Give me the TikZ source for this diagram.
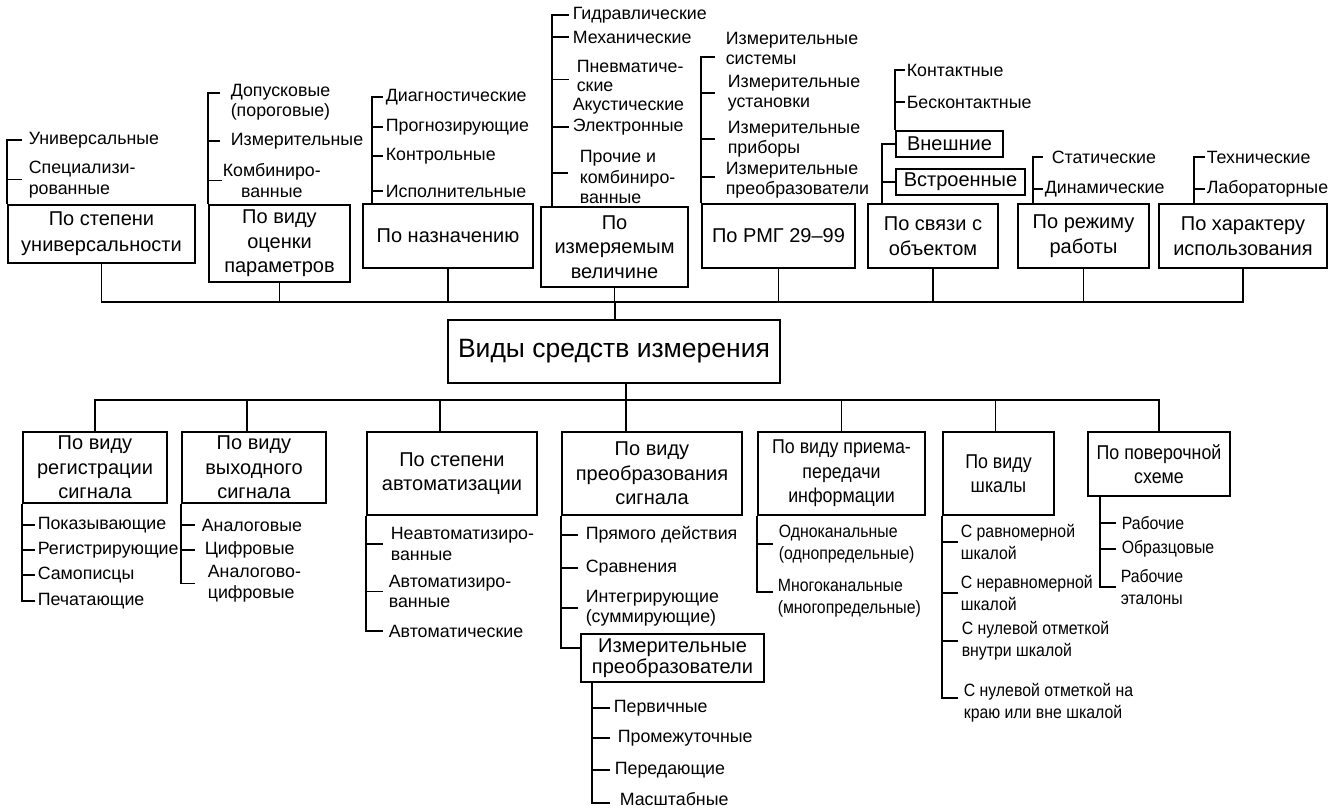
\documentclass[tikz,border=0pt]{standalone}
\usepackage{fontspec}
\setmainfont{Liberation Sans}
\newfontfamily\narrowfont[FakeStretch=0.89]{Liberation Sans}
\tikzset{bx/.append style={draw,align=center,inner sep=0pt,font=\fontsize{20}{24.5}\selectfont}}
\tikzset{bxn/.append style={bx,font=\narrowfont\fontsize{20}{24.5}\selectfont}}
\tikzset{lf/.append style={anchor=west,align=left,inner xsep=3pt,inner ysep=0pt,font=\fontsize{17.8}{20.5}\selectfont}}
\tikzset{lfn/.append style={lf,font=\narrowfont\fontsize{17.8}{22}\selectfont}}
\tikzset{mainbx/.append style={draw,align=center,inner sep=0pt,font=\fontsize{26.5}{30}\selectfont}}

\begin{document}
\begin{tikzpicture}[x=1pt,y=-1pt,line width=1.6pt]
                \useasboundingbox (0,0) rectangle (1343,810);
                % main box
                \node[mainbx,minimum width=332pt,minimum height=63pt] (cb) at (614,351.5) {Виды средств измерения};
                % top row
                \node[bx,minimum width=187pt,minimum height=58pt,font=\fontsize{20}{26}\selectfont] (t1) at (101.5,234) {По степени\\универсальности};
                \node[bx,minimum width=141pt,minimum height=77pt] (t2) at (279.5,243.5) {По виду\\оценки\\параметров};
                \node[bx,minimum width=170pt,minimum height=64pt] (t3) at (448,236) {По назначению};
                \node[bx,minimum width=147pt,minimum height=80pt] (t4) at (614.5,247) {По\\измеряемым\\величине};
                \node[bx,minimum width=153pt,minimum height=64pt] (t5) at (778.5,236) {По РМГ 29–99};
                \node[bx,minimum width=130pt,minimum height=64pt] (t6) at (933,236) {По связи с\\объектом};
                \node[bx,minimum width=131pt,minimum height=64pt] (t7) at (1083.5,236) {По режиму\\работы};
                \node[bx,minimum width=168pt,minimum height=64pt] (t8) at (1243,236) {По характеру\\использования};
                \node[bx,minimum width=107pt,minimum height=26pt] (w1) at (949.5,144) {Внешние};
                \node[bx,minimum width=129pt,minimum height=26pt] (w2) at (960.5,182) {Встроенные};
                % bottom row
                \node[bx,minimum width=144pt,minimum height=71pt] (d1) at (95,467.5) {По виду\\регистрации\\сигнала};
                \node[bx,minimum width=144pt,minimum height=71pt] (d2) at (254,467.5) {По виду\\выходного\\сигнала};
                \node[bx,minimum width=170pt,minimum height=83pt] (d3) at (452,473.5) {По степени\\автоматизации};
                \node[bx,minimum width=180pt,minimum height=83pt] (d4) at (652,473.5) {По виду\\преобразования\\сигнала};
                \node[bxn,minimum width=167pt,minimum height=83pt] (d5) at (841.5,473.5) {По виду приема-\\передачи\\информации};
                \node[bxn,minimum width=111pt,minimum height=83pt] (d6) at (998.5,473.5) {По виду\\шкалы};
                \node[bxn,minimum width=142pt,minimum height=64pt] (d7) at (1159,464) {По поверочной\\схеме};
                \node[bx,minimum width=183pt,minimum height=48pt,font=\fontsize{20}{21.5}\selectfont] (e1) at (672.5,658) {Измерительные\\преобразователи};
                % top labels
                \node[lf,inner xsep=6pt] (t1a) at (22,140) {Универсальные};
                \node[lf,inner xsep=6pt] (t1b) at (22,179.5) {Специализи-\\рованные};
                \node[lf,inner xsep=10pt] (t2a) at (220,102) {Допусковые\\(пороговые)};
                \node[lf,inner xsep=10pt] (t2b) at (220,141) {Измерительные};
                \node[lf,inner xsep=0pt,align=center] (t2c) at (222,180.5) {Комбиниро-\\ванные};
                \node[lf,inner xsep=2pt] (t3a) at (383,97) {Диагностические};
                \node[lf,inner xsep=2pt] (t3b) at (383,127) {Прогнозирующие};
                \node[lf,inner xsep=2pt] (t3c) at (383,156) {Контрольные};
                \node[lf,inner xsep=2pt] (t3d) at (383,191) {Исполнительные};
                \node[lf] (t4a) at (569,15) {Гидравлические};
                \node[lf] (t4b) at (569,37) {Механические};
                \node[lf,inner xsep=7pt,font=\fontsize{17.8}{19.5}\selectfont] (t4c) at (569,76) {Пневматиче-\\ские};
                \node[lf] (t4d) at (569,106) {Акустические};
                \node[lf] (t4e) at (569,127) {Электронные};
                \node[lf,inner xsep=11pt] (t4f) at (568,177) {Прочие и\\комбиниро-\\ванные};
                \node[lf,inner xsep=10pt] (t5a) at (715,48.5) {Измерительные\\системы};
                \node[lf,inner xsep=12pt] (t5b) at (715,93) {Измерительные\\установки};
                \node[lf,inner xsep=12pt] (t5c) at (715,139) {Измерительные\\приборы};
                \node[lf,inner xsep=10pt] (t5d) at (715,180) {Измерительные\\преобразователи};
                \node[lf,inner xsep=1pt] (t6a) at (905,70) {Контактные};
                \node[lf,inner xsep=1pt] (t6b) at (905,102) {Бесконтактные};
                \node[lf,inner xsep=8pt] (t7a) at (1043,157) {Статические};
                \node[lf,inner xsep=1pt] (t7b) at (1043,189) {Динамические};
                \node[lf,inner xsep=1pt] (t8a) at (1205,157) {Технические};
                \node[lf,inner xsep=1pt] (t8b) at (1205,189) {Лабораторные};
                % bottom labels
                \node[lf,inner xsep=2pt] (d1a) at (35,525) {Показывающие};
                \node[lf,inner xsep=2pt] (d1b) at (35,550) {Регистрирующие};
                \node[lf,inner xsep=2pt] (d1c) at (35,575) {Самописцы};
                \node[lf,inner xsep=2pt] (d1d) at (35,601) {Печатающие};
                \node[lf,inner xsep=6pt] (d2a) at (195,525) {Аналоговые};
                \node[lf,inner xsep=9pt] (d2b) at (195,550) {Цифровые};
                \node[lf,inner xsep=12pt] (d2c) at (195,583.5) {Аналогово-\\цифровые};
                \node[lf,inner xsep=7pt] (d3a) at (383,544) {Неавтоматизиро-\\ванные};
                \node[lf,inner xsep=5pt] (d3b) at (383,591.5) {Автоматизиро-\\ванные};
                \node[lf,inner xsep=5pt] (d3c) at (383,631) {Автоматические};
                \node[lf,inner xsep=7pt] (d4a) at (578,535) {Прямого действия};
                \node[lf,inner xsep=7pt] (d4b) at (578,568) {Сравнения};
                \node[lf,inner xsep=7pt] (d4c) at (578,608) {Интегрирующие\\(суммирующие)};
                \node[lf] (e1a) at (610,708) {Первичные};
                \node[lf,inner xsep=7pt] (e1b) at (610,738) {Промежуточные};
                \node[lf,inner xsep=4pt] (e1c) at (610,770) {Передающие};
                \node[lf,inner xsep=9pt] (e1d) at (610,799) {Масштабные};
                \node[lfn,inner xsep=5pt] (d5a) at (773,544) {Одноканальные\\(однопредельные)};
                \node[lfn,inner xsep=4pt] (d5b) at (773,598) {Многоканальные\\(многопредельные)};
                \node[lfn,inner xsep=2pt] (d6a) at (958,542) {С равномерной\\шкалой};
                \node[lfn,inner xsep=2pt] (d6b) at (958,593) {С неравномерной\\шкалой};
                \node[lfn,inner xsep=3pt] (d6c) at (958,641) {С нулевой отметкой\\внутри шкалой};
                \node[lfn,inner xsep=5pt] (d6d) at (958,703) {С нулевой отметкой на\\краю или вне шкалой};
                \node[lfn,inner xsep=5pt] (d7a) at (1116,523) {Рабочие};
                \node[lfn,inner xsep=5pt] (d7b) at (1116,549) {Образцовые};
                \node[lfn,inner xsep=4pt] (d7c) at (1116,587) {Рабочие\\эталоны};
                % spines
                \coordinate (s2) at (t2.north west);
                \coordinate (s3) at ([xshift=10pt]t3.north west);
                \coordinate (s4) at ([xshift=12pt]t4.north west);
                \coordinate (s5) at (t5.north west);
                \coordinate (s6) at ([xshift=15pt]t6.north west);
                \coordinate (s7) at ([xshift=16pt]t7.north west);
                \coordinate (s8) at ([xshift=36pt]t8.north west);
                \coordinate (s9) at ([xshift=12pt]e1.south west);
                \coordinate (s10) at ([xshift=13pt]d7.south west);
                \coordinate (k2a) at ([yshift=9pt]t2a.west);
                \coordinate (k4c) at ([yshift=-3.5pt]t4c.west);
                \coordinate (k4f) at ([yshift=4pt]t4f.west);
                \coordinate (k5a) at ([yshift=-8.5pt]t5a.west);
                \coordinate (k5d) at ([yshift=3pt]t5d.west);
                \coordinate (ke1) at ([yshift=10pt]e1.west);
                \coordinate (ke1d) at ([yshift=-4pt]e1d.west);
                \coordinate (k5b) at ([yshift=6pt]d5b.west);
                \coordinate (k6d) at ([yshift=5pt]d6d.west);
                \draw (t1.north west) |- (t1a.west);
                \draw (t1.north west |- t1b.west) -- (t1b.west);
                \draw (s2) |- (k2a);
                \foreach \n in {t2b,t2c} \draw (s2 |- \n.west) -- (\n.west);
                \draw (s3) |- (t3a.west);
                \foreach \n in {t3b,t3c,t3d} \draw (s3 |- \n.west) -- (\n.west);
                \draw (s4) |- (t4a.west);
                \foreach \n in {t4b,t4e} \draw (s4 |- \n.west) -- (\n.west);
                \draw (s4 |- k4c) -- (k4c);
                \draw (s4 |- k4f) -- (k4f);
                \draw (s5) |- (k5a);
                \foreach \n in {t5b,t5c} \draw (s5 |- \n.west) -- (\n.west);
                \draw (s5 |- k5d) -- (k5d);
                \draw (s6) |- (w1.west);
                \draw (s6 |- w2.west) -- (w2.west);
                \draw (w1.north west) |- (t6a.west);
                \draw (w1.north west |- t6b.west) -- (t6b.west);
                \draw (s7) |- (t7a.west);
                \draw (s7 |- t7b.west) -- (t7b.west);
                \draw (s8) |- (t8a.west);
                \draw (s8 |- t8b.west) -- (t8b.west);
                \draw (d1.south west) |- (d1d.west);
                \foreach \n in {d1a,d1b,d1c} \draw (d1.south west |- \n.west) -- (\n.west);
                \draw (d2.south west) |- (d2c.west);
                \foreach \n in {d2a,d2b} \draw (d2.south west |- \n.west) -- (\n.west);
                \draw (d3.south west) |- (d3c.west);
                \foreach \n in {d3a,d3b} \draw (d3.south west |- \n.west) -- (\n.west);
                \draw (d4.south west) |- (ke1);
                \foreach \n in {d4a,d4b,d4c} \draw (d4.south west |- \n.west) -- (\n.west);
                \draw (s9) |- (ke1d);
                \foreach \n in {e1a,e1b,e1c} \draw (s9 |- \n.west) -- (\n.west);
                \draw (d5.south west) |- (k5b);
                \draw (d5.south west |- d5a.west) -- (d5a.west);
                \draw (d6.south west) |- (k6d);
                \foreach \n in {d6a,d6b,d6c} \draw (d6.south west |- \n.west) -- (\n.west);
                \draw (s10) |- (d7c.west);
                \foreach \n in {d7a,d7b} \draw (s10 |- \n.west) -- (\n.west);
                % buses
                \coordinate (tb) at (615,302);
                \coordinate (bb) at (626,400);
                \foreach \i in {1,...,8} \draw (t\i.south) |- (tb);
                \draw (tb) -- (cb.north -| tb);
                \draw (cb.south -| bb) -- (bb);
                \foreach \i/\dx in {1/0,2/-7,3/-12,4/-26,5/0,6/-3,7/0} \draw ([xshift=\dx pt]d\i.north) |- (bb);
            \end{tikzpicture}
\end{document}
